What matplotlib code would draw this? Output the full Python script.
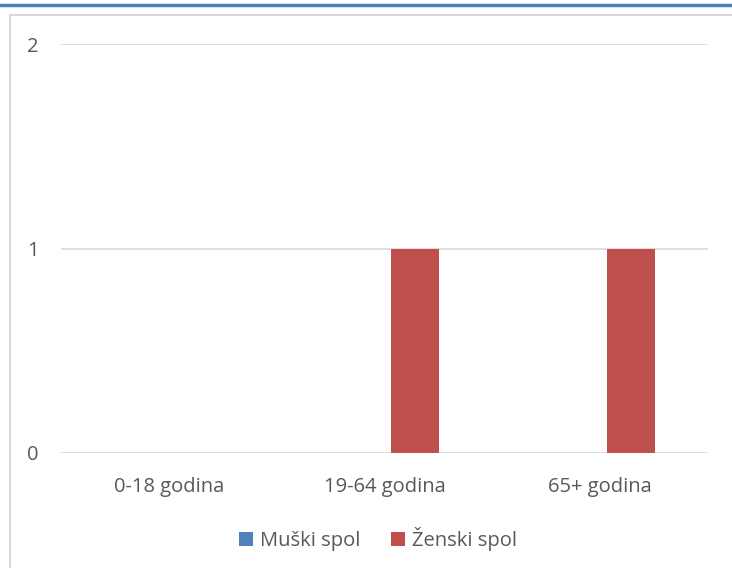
import matplotlib.pyplot as plt
import numpy as np
from matplotlib.lines import Line2D
from matplotlib.patches import Rectangle

# Podaci
kategorije = ['0-18 godina', '19-64 godina', '65+ godina']
muski = [0, 0, 0]
zenski = [0, 1, 1]
serije = ['Muški spol', 'Ženski spol']
boje = ['#4F81BD', '#C0504D']

plt.rcParams['font.family'] = ['Open Sans', 'DejaVu Sans']

W, H = 732, 568
fig = plt.figure(figsize=(W / 100, H / 100), dpi=100)

# plava linija na vrhu i sivi okvir
fig.add_artist(Line2D([0, 1], [1 - 5 / H, 1 - 5 / H], color='#4F81BD', lw=2.5))
fig.add_artist(Rectangle((10 / W, -0.1), 1.2, 1 + 0.1 - 15 / H, fill=False,
                         edgecolor='#D9D9D9', lw=1.5))

ax = fig.add_axes([61 / W, 1 - 453 / H, (708 - 61) / W, (453 - 44) / H])

x = np.arange(len(kategorije))
sirina = 0.222
pomak = 0.143
ax.bar(x - pomak, muski, sirina, color=boje[0], label=serije[0], zorder=3)
ax.bar(x + pomak, zenski, sirina, color=boje[1], label=serije[1], zorder=3)

ax.set_xlim(-0.5, 2.5)
ax.set_ylim(0, 2)
ax.set_yticks([0, 1, 2])
ax.set_xticks(x)
ax.set_xticklabels(kategorije)
ax.grid(axis='y', color='#D9D9D9', lw=1.2, zorder=0)
ax.tick_params(length=0, labelsize=14.5, colors='#595959')
ax.tick_params(axis='y', pad=16)
ax.tick_params(axis='x', pad=17)
for s in ax.spines.values():
    s.set_visible(False)

leg = ax.legend(loc='center', bbox_to_anchor=(0.49, -0.21), ncol=2, frameon=False,
                fontsize=14.5, handlelength=0.7, handleheight=0.7, handletextpad=0.35,
                columnspacing=1.5)
for t in leg.get_texts():
    t.set_color('#595959')

fig.savefig('out.png', dpi=100)
